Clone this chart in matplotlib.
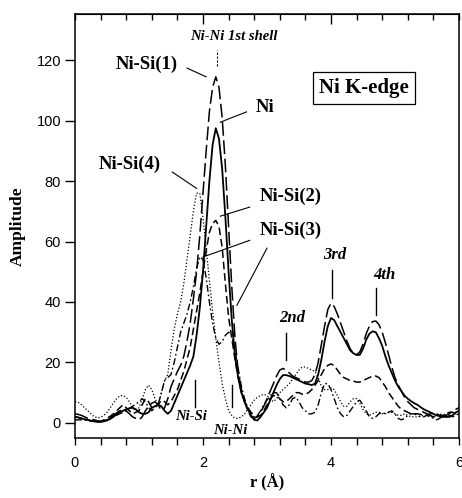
import numpy as np
import matplotlib
matplotlib.use("Agg")
import matplotlib.pyplot as plt

# shared r grid (Å), 0.05 step, 121 samples
r = np.round(np.arange(0, 6.0001, 0.05), 2)

ni = [2, 1.8, 1.5, 1.2, 1, 0.7, 0.5, 0.3, 0.3, 0.5,
      0.8, 1.3, 2, 2.8, 3.5, 4, 4.5, 4.8, 5, 4.5,
      3.5, 3, 3, 3.5, 5, 5.5, 6, 5.5, 4, 3,
      4, 6.5, 9, 11.5, 14, 16.5, 19, 22, 29, 38,
      50, 65, 80, 92, 97.5, 94, 84, 68, 50, 34,
      22, 15, 10, 7, 4.5, 2.5, 1, 0.8, 2, 3.5,
      5, 7.5, 10, 12.5, 14.5, 15.8, 15.8, 15.5, 15, 14.5,
      14, 13.5, 13, 12.8, 12.5, 13, 16, 21, 27, 32,
      34.7, 34, 32, 30, 28, 26, 24, 23, 22.5, 22.5,
      24.5, 27.5, 29.5, 30.3, 30, 28, 25.5, 22, 19, 16.5,
      14, 12, 10.5, 9, 8, 7.2, 6.5, 6, 5.2, 4.5,
      4, 3.5, 3, 2.5, 2.2, 2, 2, 2, 2.5, 3.5,
      4]

ni_si1 = [3, 2.8, 2.5, 2, 1.5, 1.2, 1, 0.7, 0.5, 0.7,
          1, 1.7, 2.5, 3.3, 4, 4.5, 4, 3, 2, 1.5,
          1, 2, 4, 5.5, 6.5, 7, 6, 4, 5, 8,
          12, 14.5, 17, 19, 22, 27, 33, 41, 50, 62,
          76, 90, 103, 111, 114.5, 111, 101, 85, 65, 45,
          28, 17, 11, 7, 4, 2, 1.5, 2, 3.5, 5.5,
          8, 10.5, 13, 15.5, 17.5, 18, 17.5, 16.5, 15.5, 15,
          14.5, 14, 13.5, 13.5, 14, 16, 20, 26, 32, 37.5,
          39.6, 38.5, 36, 33, 30, 27, 24.5, 23, 22.5, 23.5,
          26, 29.5, 32, 33.5, 33.7, 32.5, 30, 26.5, 22.5, 18.5,
          15, 12.5, 10.5, 8.5, 7, 6, 5, 4.5, 4, 3.5,
          3, 2.5, 2, 2, 2, 2, 2.5, 3, 4, 4.5,
          5]

ni_si2 = [2, 1.8, 1.5, 1.2, 1, 0.7, 0.5, 0.5, 0.5, 1,
          1.5, 2.2, 3, 4, 5, 6, 5, 4, 3, 3.5,
          4, 6, 8, 7, 5, 5.5, 6, 7.5, 7, 6,
          7, 9, 11, 14, 17, 21, 25, 31, 37, 43,
          50, 57, 63, 66, 67, 65, 58, 46, 35, 28,
          21, 15, 10, 7, 5, 3.5, 2.5, 2, 2.5, 4,
          6, 8, 9, 9, 8, 7, 7, 8, 9, 10,
          10, 9.5, 9.5, 10, 11, 12.5, 14, 16, 18, 19,
          19.5, 19, 17.5, 16, 15, 14.5, 14, 13.8, 13.5, 13.5,
          14, 14.5, 15, 15.5, 15.5, 15, 13.5, 12, 10, 8.5,
          7, 5.5, 4.5, 4, 3.5, 3, 3, 3, 2.8, 2.5,
          2.5, 3, 3.2, 3, 2.5, 2.5, 3, 3.5, 3.5, 3,
          3]

ni_si3 = [1, 1, 1, 0.9, 0.8, 0.6, 0.5, 0.5, 0.5, 0.7,
          1, 1.5, 2, 2.5, 3, 3.5, 4, 4.8, 5.5, 6.2,
          7, 8, 7, 5, 4, 5, 6, 10, 14, 15,
          16, 20, 25, 30, 33, 36, 40, 45, 51, 55,
          54, 48, 40, 33, 28, 26, 27, 29, 30, 29,
          24, 18, 12, 8, 5, 3, 2, 2.5, 4, 6,
          7.5, 9, 10, 10, 8, 6, 5, 6, 8, 8.5,
          7, 5, 4, 3, 3, 3.5, 6, 10, 13, 13,
          11, 8, 5, 3, 2, 2.5, 4, 5.5, 7, 7.5,
          6, 4, 2, 1.5, 2, 3, 3.5, 3, 3.5, 4,
          3, 1.5, 1, 1.5, 2.5, 3, 3, 2.5, 2, 2,
          2.5, 2, 1.5, 1, 1.5, 2.5, 3, 2.5, 2, 2.5,
          3]

ni_si4 = [7, 6.8, 6, 5, 4, 3, 2, 1.7, 1.8, 2.5,
          3.5, 5, 6.5, 8, 9, 9, 8.5, 7, 5, 4,
          5, 8, 11, 12.5, 11, 8, 6, 10, 14, 16,
          24, 31, 36, 40, 46, 54, 62, 70, 76, 76,
          68, 58, 47, 37, 28, 20, 13, 8, 4, 2.5,
          1.5, 1.5, 2, 3, 4.5, 6, 7.5, 8.5, 9, 9.5,
          9, 8, 7, 8, 10, 11, 12, 13, 14.5, 16,
          17.5, 18.5, 18.5, 18, 17.5, 17, 15, 12, 11, 11,
          11.5, 11, 9, 7, 5.5, 5.5, 7, 8, 8, 6.5,
          4.5, 3, 2.5, 3, 3.5, 3.5, 3, 3, 3.5, 3.5,
          3, 2.5, 2.5, 3, 2.5, 2, 2, 2, 2.2, 2.5,
          2.5, 2, 2, 2.5, 3, 2.5, 2, 2, 2.5, 3,
          3]

series = [
    ("Ni", ni, dict(linestyle="-", lw=1.3)),
    ("Ni-Si(1)", ni_si1, dict(linestyle=(0, (9, 3)), lw=1.1)),
    ("Ni-Si(2)", ni_si2, dict(linestyle=(0, (5, 2.5)), lw=1.1)),
    ("Ni-Si(3)", ni_si3, dict(linestyle=(0, (5, 2, 1.2, 2)), lw=1.0)),
    ("Ni-Si(4)", ni_si4, dict(linestyle=(0, (1, 1.6)), lw=0.9)),
]

x_ticks = [0, 2, 4, 6]
y_ticks = [0, 20, 40, 60, 80, 100, 120]

fig = plt.figure(figsize=(4.62, 4.98), dpi=100)
ax = fig.add_axes([0.1623, 0.1205, 0.8312, 0.8514])

for name, vals, st in series:
    ax.plot(r, vals, color="black", **st)

ax.set_xlim(0, 6)
ax.set_ylim(-5, 135.3)

minor_x = np.round(np.arange(0, 6.01, 0.4), 2)
ax.set_xticks(x_ticks)
ax.set_xticks(minor_x, minor=True)
ax.set_yticks(y_ticks)
ax.tick_params(axis="x", which="both", direction="out", length=5, width=1, top=False,
               labelsize=10.5, pad=8)
ax.tick_params(axis="y", which="major", direction="out", length=7, width=1, labelsize=10.5, pad=3)
for lab in ax.get_xticklabels() + ax.get_yticklabels():
    lab.set_fontfamily("Liberation Sans")

# top inward ticks
sec = ax.secondary_xaxis("top")
sec.set_xticks([2, 4])
sec.set_xticks(minor_x, minor=True)
sec.tick_params(which="major", direction="in", length=7, width=1, labeltop=False)
sec.tick_params(which="minor", direction="in", length=4, width=1)
sec.set_xticklabels([])

for s in ax.spines.values():
    s.set_linewidth(1.1)

serif = "Liberation Serif"
ax.set_xlabel("r (Å)", fontsize=12, fontweight="bold", family=serif, labelpad=3)
ax.set_ylabel("Amplitude", fontsize=12.5, fontweight="bold", family=serif, labelpad=8)

lab_kw = dict(fontsize=13.5, fontweight="bold", family=serif)
ax.text(1.12, 118.5, "Ni-Si(1)", ha="center", va="center", **lab_kw)
ax.plot([1.75, 2.05], [117.4, 114.5], color="black", lw=0.8)
ax.text(0.85, 85.5, "Ni-Si(4)", ha="center", va="center", **lab_kw)
ax.plot([1.52, 1.9], [83, 77.6], color="black", lw=0.8)
ax.text(2.97, 104.2, "Ni", ha="center", va="center", **lab_kw)
ax.plot([2.68, 2.27], [102.9, 99.5], color="black", lw=0.8)
ax.text(3.37, 74.8, "Ni-Si(2)", ha="center", va="center", **lab_kw)
ax.plot([2.73, 2.27], [71.4, 68.4], color="black", lw=0.8)
ax.text(3.37, 63.8, "Ni-Si(3)", ha="center", va="center", **lab_kw)
ax.plot([2.73, 2.0], [60.4, 54.9], color="black", lw=0.8)
ax.plot([3.0, 2.53], [57.8, 38.9], color="black", lw=0.8)

it_kw = dict(fontsize=10.5, fontweight="bold", fontstyle="italic", family=serif)
ax.text(2.49, 127.8, "Ni-Ni 1st shell", ha="center", va="center", **it_kw)
ax.plot([2.22, 2.22], [118, 123.5], color="black", lw=0.8, linestyle=(0, (2, 1.5)))

ax.text(4.52, 110.8, "Ni K-edge", ha="center", va="center", fontsize=15, fontweight="bold",
        family=serif, bbox=dict(boxstyle="square,pad=0.3", fc="white", ec="black", lw=0.9))

sh_kw = dict(fontsize=12, fontweight="bold", fontstyle="italic", family=serif)
ax.text(3.39, 34.6, "2nd", ha="center", va="center", **sh_kw)
ax.plot([3.3, 3.3], [20.7, 29.6], color="black", lw=1)
ax.text(4.06, 55.5, "3rd", ha="center", va="center", **sh_kw)
ax.plot([4.01, 4.01], [41.2, 50.5], color="black", lw=1)
ax.text(4.83, 48.9, "4th", ha="center", va="center", **sh_kw)
ax.plot([4.71, 4.71], [35.6, 44.5], color="black", lw=1)

ax.text(1.56, 2.0, "Ni-Si", ha="left", va="center", **it_kw)
ax.plot([1.875, 1.875], [5.2, 14.1], color="black", lw=1)
ax.text(2.16, -2.4, "Ni-Ni", ha="left", va="center", **it_kw)
ax.plot([2.45, 2.45], [5.2, 12.5], color="black", lw=1)

fig.savefig("out.png", dpi=100)
